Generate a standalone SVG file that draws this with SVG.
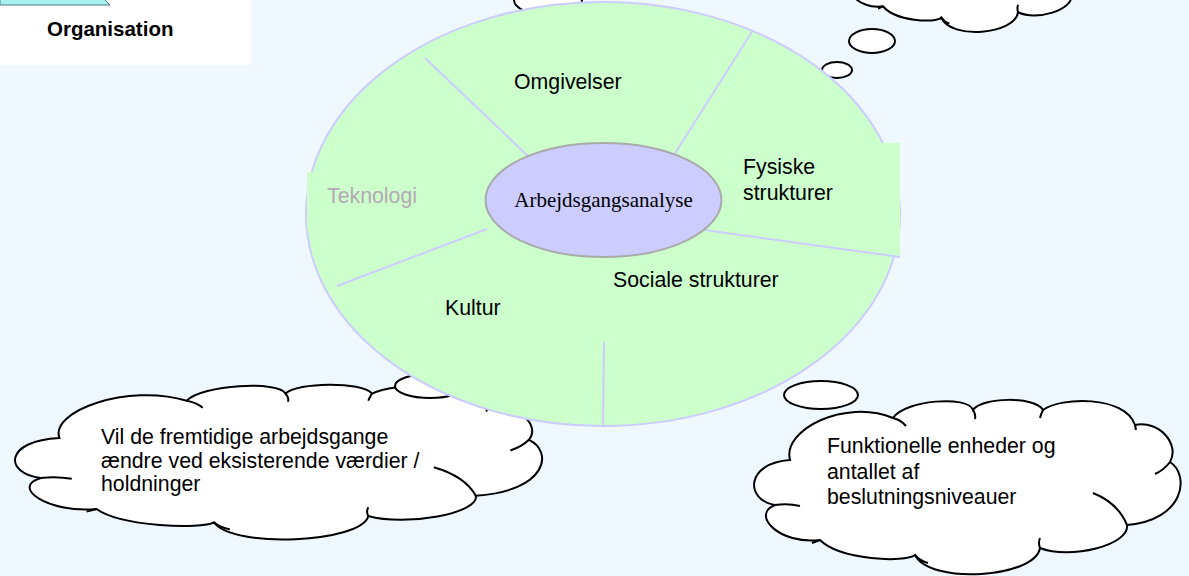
<svg xmlns="http://www.w3.org/2000/svg" width="1189" height="576" viewBox="0 0 1189 576">
<style>
.t{font-family:"Liberation Sans",Arial,sans-serif;font-size:21.3px;fill:#000}
.div{stroke:#ccccff;stroke-width:2;fill:none}
.bub{fill:#fff;stroke:#000;stroke-width:2}
.cl{fill:#fff;stroke:#000;stroke-width:2;vector-effect:non-scaling-stroke}
.cr{fill:none;stroke:#000;stroke-width:2;vector-effect:non-scaling-stroke}
</style>
<defs>
<g id="cloudShape">
<path class="cl" d="M790,460 C782,430 845,398 893,418 C905,400 968,395 973,410 C982,397 1035,396 1043,410 C1060,397 1125,395 1135,425 C1160,420 1180,445 1170,462 C1190,475 1185,520 1127,525 C1130,545 1070,560 1040,548 C1035,578 930,585 915,555 C905,563 840,560 820,540 C780,545 750,515 775,505 C745,500 745,463 790,460 Z"/>
<path class="cr" d="M893,418 Q901,420 906,426 M973,410 Q976,414 975,419 M1043,410 Q1041,414 1040,418 M1135,425 L1136,430 M1155,474 Q1164,470 1170,462 M1093,493 Q1118,503 1127,525 M1040,548 Q1038,543 1040,538 M915,555 Q920,561 928,563 M820,540 L812,543 M775,505 Q788,503 800,506"/>
</g>
</defs>
<rect width="1189" height="576" fill="#f0f8ff"/>
<g id="org-label">
<rect x="0" y="0" width="251" height="65" fill="#fff"/>
<path d="M0,-2 L103,-2 L110,5 L0,5 Z" fill="#a6f2f2" stroke="#557777" stroke-width="1"/>
<text x="47" y="36" class="t" style="font-weight:bold;font-size:20.5px">Organisation</text>
</g>
<g id="cloud-topright">
<use href="#cloudShape" transform="matrix(0.614 0 0 0.75 379.5 -398.75)"/>
<ellipse class="bub" cx="872" cy="41" rx="23" ry="12"/>
<ellipse class="bub" cx="837" cy="70" rx="15" ry="8"/>
</g>
<g id="cloud-top">
<ellipse class="bub" cx="548" cy="0" rx="34" ry="15"/>
</g>
<g id="cloud-left">
<use href="#cloudShape" transform="matrix(1.2356 0 0 0.887 -916.7 30)"/>
<ellipse class="bub" cx="430" cy="386" rx="35" ry="12"/>
<text class="t"><tspan x="101" y="444">Vil de fremtidige arbejdsgange</tspan><tspan x="101" y="468">ændre ved eksisterende værdier /</tspan><tspan x="101" y="491">holdninger</tspan></text>
</g>
<g id="cloud-right">
<use href="#cloudShape"/>
<ellipse class="bub" cx="821" cy="395" rx="37" ry="14"/>
<text class="t"><tspan x="827" y="453">Funktionelle enheder og</tspan><tspan x="827" y="479">antallet af</tspan><tspan x="827" y="504">beslutningsniveauer</tspan></text>
</g>
<g id="organisation-circle">
<ellipse cx="603" cy="214" rx="297" ry="212" fill="#ccffcc" stroke="#ccccff" stroke-width="2"/>
<rect x="307" y="172" width="150" height="58" fill="#ccffcc"/>
<rect x="740" y="143" width="160" height="114" fill="#ccffcc"/>
</g>
<g id="connectors">
<line class="div" x1="425" y1="58" x2="529" y2="157"/>
<line class="div" x1="487" y1="229" x2="337" y2="286"/>
<line class="div" x1="753" y1="30" x2="674" y2="155"/>
<line class="div" x1="705" y1="230" x2="900" y2="257"/>
<line class="div" x1="604" y1="342" x2="603" y2="426"/>
</g>
<g id="sector-labels">
<text x="514" y="89" class="t">Omgivelser</text>
<text x="327" y="203" class="t" style="fill:#b4aab4">Teknologi</text>
<text class="t"><tspan x="743" y="174">Fysiske</tspan><tspan x="743" y="200">strukturer</tspan></text>
<text x="613" y="287" class="t">Sociale strukturer</text>
<text x="445" y="315" class="t">Kultur</text>
</g>
<g id="center">
<ellipse cx="603.5" cy="200" rx="118" ry="57" fill="#ccccff" stroke="#aaaaaa" stroke-width="2"/>
<text x="603.5" y="207" text-anchor="middle" style="font-family:'Liberation Serif','Times New Roman',serif;font-size:21px">Arbejdsgangsanalyse</text>
</g>
</svg>
